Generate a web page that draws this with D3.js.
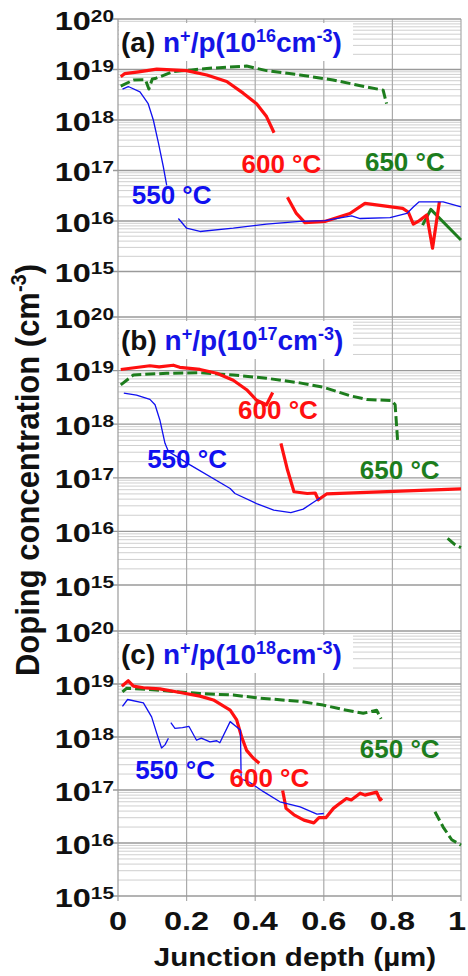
<!DOCTYPE html>
<html><head><meta charset="utf-8">
<script src="https://cdn.jsdelivr.net/npm/d3@7"></script>
<style>
html,body{margin:0;padding:0;background:#fff;}
svg{display:block;font-family:"Liberation Sans",Arial,sans-serif;font-weight:bold;}
</style></head>
<body>
<script>
// ---------- data ----------
const depthTicks = [0, 0.2, 0.4, 0.6, 0.8, 1];
const depthTickLabels = ["0", "0.2", "0.4", "0.6", "0.8", "1"];
const decadeTicks = [1e15, 1e16, 1e17, 1e18, 1e19, 1e20];
const decadeExponents = ["15", "16", "17", "18", "19", "20"];
const panelIds = ["(a)", "(b)", "(c)"];
const substrateExp = ["16", "17", "18"];
const temps = ["550 °C", "600 °C", "650 °C"];

// depth (µm), concentration (cm^-3); each series split into measured segments
const a550 = [
  [[0.013,4.1e18],[0.03,4.6e18],[0.064,3.6e18],[0.088,2.1e18],[0.103,1.0e18],[0.118,3.5e17],[0.132,1.2e17],[0.142,5.1e16]],
  [[0.176,1.12e16],[0.2,7.2e15],[0.239,6.2e15],[0.336,7.2e15],[0.433,8.7e15],[0.53,9.8e15],[0.603,1.02e16],[0.681,1.26e16],[0.706,1.12e16],[0.793,1.17e16],[0.842,1.41e16],[0.861,1.9e16],[0.878,2.4e16],[0.948,2.4e16],[1.0,1.9e16]]
];
const a600 = [
  [[0.008,7.2e18],[0.02,8.3e18],[0.06,9.0e18],[0.113,1.02e19],[0.2,9.5e18],[0.259,7.8e18],[0.317,5.8e18],[0.365,3.4e18],[0.404,2.1e18],[0.433,1.17e18],[0.455,5.6e17]],
  [[0.494,2.95e16],[0.52,1.41e16],[0.545,9.3e15],[0.603,9.8e15],[0.676,1.41e16],[0.72,2.24e16],[0.83,1.78e16],[0.846,1.51e16],[0.861,8.7e15],[0.875,9.8e15],[0.9,1.32e16],[0.917,2.9e15],[0.937,2.4e16]]
];
const a650 = [
  [[0.008,4.7e18],[0.045,6.2e18],[0.08,6.3e18],[0.09,4.1e18],[0.1,6.5e18],[0.108,6.6e18],[0.161,9.1e18],[0.215,9.8e18],[0.259,1.05e19],[0.375,1.17e19],[0.433,9.5e18],[0.53,7.8e18],[0.627,6.2e18],[0.725,4.5e18],[0.773,3.9e18],[0.783,2.1e18]]
];
const a650tail = [[0.888,8.3e15],[0.912,1.7e16],[1.0,4.2e15]];

const b550 = [
  [[0.017,3.8e18],[0.054,3.5e18],[0.093,2.9e18],[0.108,2.3e18],[0.122,1.2e18],[0.137,4.4e17],[0.147,3.1e17],[0.175,2.4e17],[0.21,1.74e17],[0.327,6.3e16],[0.341,5.1e16],[0.404,3.3e16],[0.454,2.5e16],[0.504,2.24e16],[0.54,2.6e16],[0.57,3.5e16],[0.589,4.2e16]]
];
const b600 = [
  [[0.008,1.05e19],[0.093,1.23e19],[0.12,1.17e19],[0.161,1.26e19],[0.18,1.15e19],[0.239,1.05e19],[0.288,8.9e18],[0.336,6.6e18],[0.375,4.4e18],[0.404,2.8e18],[0.433,2.3e18],[0.451,3.9e18]],
  [[0.475,4.4e17],[0.494,1.41e17],[0.513,5.5e16],[0.552,5.1e16],[0.575,5.2e16],[0.584,3.9e16],[0.608,5.0e16],[1.0,6.2e16]]
];
const b650 = [
  [[0.008,5.4e18],[0.045,8.3e18],[0.142,8.9e18],[0.239,9.1e18],[0.336,8.3e18],[0.433,7.2e18],[0.53,5.9e18],[0.598,4.9e18],[0.676,3.4e18],[0.725,2.9e18],[0.798,2.75e18],[0.808,2.3e18],[0.815,5.1e17]],
  [[0.961,7.4e15],[0.983,5.6e15],[1.0,5.0e15]]
];

const c550 = [
  [[0.013,3.8e18],[0.028,5.1e18],[0.074,4.4e18],[0.098,2.4e18],[0.113,1.17e18],[0.127,6.2e17],[0.137,7.1e17],[0.147,9.5e17]],
  [[0.154,1.86e18],[0.166,1.45e18],[0.188,1.5e18],[0.207,1.58e18],[0.229,8.7e17],[0.243,9.5e17],[0.268,8.1e17],[0.288,8.5e17],[0.297,7.8e17],[0.327,1.95e18],[0.346,1.55e18],[0.357,1.35e18],[0.359,1.6e17],[0.38,1.45e17],[0.424,9.3e16],[0.472,6.0e16],[0.531,4.8e16],[0.58,3.5e16],[0.6,3.6e16]]
];
const c600 = [
  [[0.011,9.1e18],[0.03,1.15e19],[0.045,9.1e18],[0.074,8.5e18],[0.122,8.1e18],[0.181,6.9e18],[0.239,5.9e18],[0.278,5.0e18],[0.327,3.2e18],[0.346,2.1e18],[0.36,1.02e18],[0.375,5.6e17],[0.394,4.0e17],[0.412,3.2e17]],
  [[0.48,9.8e16],[0.49,4.5e16],[0.513,3.4e16],[0.542,2.7e16],[0.571,2.4e16],[0.586,3.0e16],[0.606,3.0e16],[0.628,4.5e16],[0.647,5.6e16],[0.666,6.9e16],[0.68,6.5e16],[0.706,8.7e16],[0.72,8.0e16],[0.754,9.1e16],[0.764,6.5e16],[0.77,7.0e16]]
];
const c650 = [
  [[0.013,7.1e18],[0.025,8.3e18],[0.1,7.8e18],[0.239,6.6e18],[0.336,6.2e18],[0.414,5.4e18],[0.53,4.7e18],[0.598,4.0e18],[0.656,3.3e18],[0.715,2.8e18],[0.754,3.2e18],[0.767,2.2e18]],
  [[0.924,3.9e16],[0.948,2.0e16],[0.973,1.15e16],[1.0,9.1e15]]
];

// temperature label anchors [depth, concentration] per panel (550, 600, 650)
const labelAnchors = [
  [[0.04,2.2e16],[0.36,9.0e16],[0.72,1.0e17]],
  [[0.085,1.5e17],[0.35,1.25e18],[0.705,9.5e16]],
  [[0.05,1.6e17],[0.325,1.15e17],[0.705,4.0e17]]
];

// ---------- layout ----------
const W = 468, H = 976;
const X0 = 118, X1 = 461;
const panelTop = [19, 317, 631];
const panelBot = [271.5, 585, 896];
const colors = {c550:"#1010f0", c600:"#ff1010", c650:"#1d7d1d", title:"#1414e6"};

const svg = d3.select("body").append("svg").attr("width", W).attr("height", H);
const x = d3.scaleLinear().domain([0, 1]).range([X0, X1]);

const panelSeries = [
  {s550:a550, s600:a600, s650:a650, tail:a650tail},
  {s550:b550, s600:b600, s650:b650, tail:null},
  {s550:c550, s600:c600, s650:c650, tail:null}
];

svg.append("defs").append("clipPath").attr("id","clipAll")
  .append("rect").attr("x", X0).attr("y", 0).attr("width", X1 - X0 + 1).attr("height", H);

panelTop.forEach((top, i) => {
  const bot = panelBot[i];
  const y = d3.scaleLog().domain([1e15, 1e20]).range([bot, top]);
  const g = svg.append("g");
  const vEnd = i < 2 ? panelTop[i + 1] : bot + 5;

  // minor horizontal grid
  const all = y.ticks();
  const minors = all.filter(v => !decadeTicks.some(d => Math.abs(d - v) / d < 1e-6));
  g.selectAll(".minor").data(minors).join("line")
    .attr("x1", X0).attr("x2", X1).attr("y1", d => y(d)).attr("y2", d => y(d))
    .attr("stroke", "#cfcfcf").attr("stroke-width", 1);
  // vertical grid
  g.selectAll(".vg").data(depthTicks).join("line")
    .attr("x1", d => x(d)).attr("x2", d => x(d)).attr("y1", top).attr("y2", vEnd)
    .attr("stroke", d => d === 0 ? "#9a9a9a" : "#ababab").attr("stroke-width", 1.2);
  // major horizontal grid + ticks
  g.selectAll(".major").data(decadeTicks).join("line")
    .attr("x1", X0 - 5).attr("x2", X1).attr("y1", d => y(d)).attr("y2", d => y(d))
    .attr("stroke", "#9a9a9a").attr("stroke-width", 1.3);

  // y tick labels
  const tl = g.selectAll(".yl").data(decadeTicks).join("text")
    .attr("transform", d => `translate(${X0 - 4},${y(d) + 10.5}) scale(1.3,1)`)
    .attr("text-anchor", "end").attr("font-size", 25).attr("fill", "#111");
  tl.append("tspan").text("10");
  tl.append("tspan").attr("font-size", 16).attr("dy", -8).text((d, k) => decadeExponents[k]);

  // title box
  g.append("rect").attr("x", X0 + 1).attr("y", top + 4).attr("width", 234).attr("height", 38).attr("fill", "#fff");
  const tt = g.append("text").attr("x", X0 + 3).attr("y", top + 33).attr("font-size", 28);
  tt.append("tspan").attr("fill", "#111").text(panelIds[i] + " ");
  tt.append("tspan").attr("fill", colors.title).text("n");
  tt.append("tspan").attr("fill", colors.title).attr("font-size", 18).attr("dy", -10).text("+");
  tt.append("tspan").attr("fill", colors.title).attr("dy", 10).text("/p(10");
  tt.append("tspan").attr("fill", colors.title).attr("font-size", 18).attr("dy", -10).text(substrateExp[i]);
  tt.append("tspan").attr("fill", colors.title).attr("dy", 10).text("cm");
  tt.append("tspan").attr("fill", colors.title).attr("font-size", 18).attr("dy", -10).text("-3");
  tt.append("tspan").attr("fill", colors.title).attr("dy", 10).text(")");

  // curves
  const line = d3.line().x(d => x(d[0])).y(d => y(d[1]));
  const lg = g.append("g").attr("clip-path", "url(#clipAll)").attr("fill", "none")
    .attr("stroke-linejoin", "round");
  const ps = panelSeries[i];
  ps.s650.forEach(seg => lg.append("path").attr("d", line(seg))
    .attr("stroke", colors.c650).attr("stroke-width", 3).attr("stroke-dasharray", "10,4"));
  if (ps.tail) lg.append("path").attr("d", line(ps.tail)).attr("stroke", colors.c650).attr("stroke-width", 3);
  ps.s600.forEach(seg => lg.append("path").attr("d", line(seg))
    .attr("stroke", colors.c600).attr("stroke-width", 3.2));
  ps.s550.forEach(seg => lg.append("path").attr("d", line(seg))
    .attr("stroke", colors.c550).attr("stroke-width", 1.3));

  // temperature labels
  const lc = [colors.c550, colors.c600, colors.c650];
  labelAnchors[i].forEach((p, k) => {
    g.append("text").attr("x", x(p[0])).attr("y", y(p[1])).attr("font-size", 26)
      .attr("fill", lc[k]).text(temps[k]);
  });
});

// x tick labels
svg.selectAll(".xl").data(depthTicks).join("text")
  .attr("transform", d => `translate(${Math.min(x(d), 457)},930) scale(1.3,1)`)
  .attr("text-anchor", "middle").attr("font-size", 25).attr("fill", "#111")
  .text((d, k) => depthTickLabels[k]);

// axis titles
svg.append("text").attr("transform", "translate(295,966) scale(1.18,1)")
  .attr("text-anchor", "middle").attr("font-size", 25).attr("fill", "#111")
  .text("Junction depth (µm)");
const yt = svg.append("text").attr("transform", "translate(39,470) rotate(-90) scale(1,1.1)")
  .attr("text-anchor", "middle").attr("font-size", 31).attr("fill", "#111");
yt.append("tspan").text("Doping concentration (cm");
yt.append("tspan").attr("font-size", 20).attr("dy", -12).text("-3");
yt.append("tspan").attr("dy", 12).text(")");
</script>
</body></html>
